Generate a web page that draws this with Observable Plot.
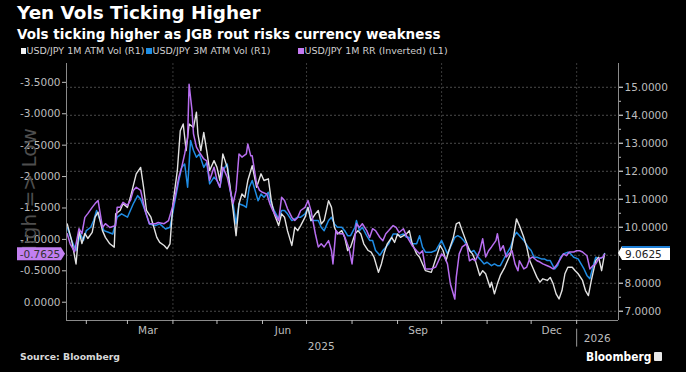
<!DOCTYPE html>
<html><head><meta charset="utf-8">
<script src="https://cdn.jsdelivr.net/npm/d3@7"></script>
<script src="https://cdn.jsdelivr.net/npm/@observablehq/plot@0.6"></script>
<style>
html,body{margin:0;padding:0;background:#000;}
#wrap{position:relative;width:686px;height:372px;overflow:hidden;background:#000;font-family:"DejaVu Sans",sans-serif;}
.abs{position:absolute;white-space:nowrap;line-height:1;}
#title{left:17px;top:3.6px;color:#fff;font-weight:bold;font-size:18.4px;}
#subtitle{left:17px;top:28px;color:#fff;font-weight:bold;font-size:13.5px;}
.lg{top:46px;color:#cfcfcf;font-size:9.5px;}
.sq{position:absolute;top:48px;width:5.5px;height:5.5px;}
#chart{position:absolute;left:0;top:56px;}
#source{left:20px;top:352px;color:#d8d8d8;font-weight:bold;font-size:9.3px;}
#logo{left:586px;top:350px;color:#fff;font-weight:bold;font-size:13px;transform-origin:0 0;transform:scaleX(0.82);}
#logoIcon{position:absolute;left:654px;top:352px;width:8px;height:9px;background:#e8e8e8;border-radius:1px;}
#rbadge{position:absolute;left:622px;width:45px;height:12px;background:#fff;border-top:2px solid #1f7fd6;color:#222;font-size:10.5px;line-height:12px;padding-left:3px;box-sizing:content-box;}
#rnotch{position:absolute;left:618px;width:0;height:0;border-top:7px solid transparent;border-bottom:7px solid transparent;border-right:4px solid #fff;}
</style></head>
<body>
<div id="wrap">
  <div id="title" class="abs">Yen Vols Ticking Higher</div>
  <div id="subtitle" class="abs">Vols ticking higher as JGB rout risks currency weakness</div>
  <div class="sq" style="left:20.5px;background:#f2f2f2"></div>
  <div class="abs lg" style="left:26.5px">USD/JPY 1M ATM Vol (R1)</div>
  <div class="sq" style="left:146px;background:#1e8ee4"></div>
  <div class="abs lg" style="left:152.5px">USD/JPY 3M ATM Vol (R1)</div>
  <div class="sq" style="left:298px;background:#c57af2"></div>
  <div class="abs lg" style="left:304.5px">USD/JPY 1M RR (Inverted) (L1)</div>
  <div id="chart"></div>
  <div id="rnotch"></div>
  <div id="rbadge"></div>
  <div id="source" class="abs">Source: Bloomberg</div>
  <div id="logo" class="abs">Bloomberg</div>
  <div id="logoIcon"></div>
</div>
<script>
// day offsets from 2025-01-01, value
const atm1M = [[18,10.12],[21,9.53],[24,8.69],[26,9.88],[28,9.42],[30,9.78],[32,9.60],[35,9.82],[37,10.36],[39,10.54],[42,9.88],[44,9.64],[47,9.41],[50,9.29],[51,10.48],[54,10.60],[56,10.84],[59,10.71],[61,11.07],[63,11.49],[65,11.91],[68,12.14],[70,11.43],[72,10.60],[75,10.36],[77,10.00],[79,9.64],[81,9.46],[84,9.35],[86,9.23],[88,9.41],[90,10.84],[93,12.03],[95,13.45],[97,13.69],[99,12.74],[101,13.69],[104,13.57],[106,14.11],[107,13.34],[109,12.74],[111,13.39],[113,12.74],[115,12.03],[118,12.38],[120,12.14],[122,11.67],[124,12.62],[127,12.14],[129,11.43],[131,10.60],[133,9.70],[135,10.84],[137,11.19],[139,11.07],[141,11.67],[144,12.20],[147,11.43],[150,11.91],[152,11.67],[155,11.73],[157,10.95],[159,10.48],[162,10.06],[164,10.48],[166,10.36],[168,9.88],[171,9.35],[173,10.00],[175,9.88],[177,10.06],[180,10.36],[182,10.71],[184,10.24],[187,10.48],[189,10.60],[191,10.12],[193,10.24],[196,10.95],[198,10.71],[200,10.00],[202,9.76],[205,9.88],[207,9.64],[209,9.17],[211,9.29],[214,9.76],[216,9.88],[218,9.76],[220,9.41],[223,9.17],[225,9.11],[227,8.93],[230,8.39],[232,8.69],[234,9.11],[236,9.41],[239,9.64],[241,9.46],[243,9.76],[245,9.64],[249,9.76],[251,9.88],[253,9.41],[256,9.05],[258,8.93],[260,8.69],[262,8.45],[266,8.39],[272,9.35],[274,9.17],[276,8.81],[278,9.17],[281,9.64],[283,10.12],[285,10.18],[287,9.88],[290,9.46],[292,9.17],[294,9.05],[296,8.81],[299,8.28],[301,8.45],[303,8.34],[306,7.86],[307,8.04],[309,7.62],[311,7.98],[313,8.28],[316,8.57],[318,8.81],[320,9.05],[322,9.64],[324,10.30],[326,10.06],[329,9.64],[331,9.29],[333,8.81],[335,8.57],[338,8.21],[340,8.04],[342,8.16],[345,8.10],[347,8.21],[349,7.98],[351,7.62],[353,7.44],[355,7.74],[357,8.34],[359,8.57],[362,8.57],[364,8.45],[366,8.34],[369,8.10],[371,7.74],[373,7.56],[375,8.10],[378,8.81],[380,8.93],[382,8.45],[384,9.05]];

const atm3M = [[18,10.00],[21,9.53],[24,9.17],[27,9.76],[29,9.53],[31,9.88],[34,10.00],[36,10.24],[38,10.60],[40,10.30],[43,9.88],[46,9.82],[49,9.76],[52,10.36],[55,10.48],[59,10.36],[61,10.60],[63,10.84],[66,11.13],[68,11.01],[71,10.60],[74,10.12],[78,10.06],[81,10.12],[85,9.94],[88,10.00],[91,10.84],[94,11.67],[96,12.14],[98,12.26],[100,11.43],[102,13.10],[104,12.74],[106,12.50],[108,12.62],[111,12.14],[113,12.32],[115,11.55],[118,11.79],[120,11.67],[122,11.43],[124,12.03],[127,12.26],[129,11.31],[131,10.84],[133,10.12],[135,10.84],[138,10.78],[140,10.71],[142,11.43],[144,11.67],[148,10.95],[150,11.19],[152,11.07],[155,11.25],[157,10.84],[159,10.60],[162,10.30],[164,10.60],[166,10.60],[168,10.48],[171,10.24],[173,10.30],[175,10.36],[177,10.36],[180,10.48],[182,10.71],[184,10.24],[187,10.24],[189,10.24],[191,10.00],[193,9.88],[196,10.24],[198,10.36],[200,10.12],[202,10.00],[205,10.00],[207,9.88],[209,9.70],[211,9.70],[214,10.00],[215,10.24],[217,9.88],[219,10.00],[222,9.70],[224,9.53],[226,9.53],[228,9.17],[231,9.00],[233,9.17],[235,9.29],[237,9.41],[240,9.76],[242,9.76],[244,9.70],[247,9.76],[249,9.64],[251,9.64],[253,9.41],[256,9.41],[258,9.70],[260,9.29],[262,9.11],[266,9.11],[269,9.17],[273,9.53],[275,9.29],[277,9.05],[279,9.29],[282,9.64],[284,9.70],[286,9.64],[288,9.53],[291,9.29],[293,9.11],[295,9.17],[298,8.93],[300,8.81],[302,8.69],[304,8.75],[307,8.63],[309,8.69],[311,8.63],[313,8.63],[316,8.93],[318,9.11],[320,9.29],[322,9.64],[324,9.82],[327,9.64],[329,9.53],[332,9.29],[334,9.17],[336,8.93],[338,8.93],[341,8.87],[343,8.87],[345,8.81],[347,8.81],[350,8.51],[352,8.63],[354,8.93],[356,9.05],[359,9.11],[361,9.05],[363,8.93],[366,8.87],[368,8.69],[370,8.51],[372,8.28],[374,8.16],[376,8.57],[378,8.93],[380,8.87],[383,8.93],[384,9.0625]];

const rr1M = [[18,-1.09],[20,-0.93],[23,-0.80],[26,-1.17],[28,-1.09],[30,-1.35],[32,-1.41],[35,-1.51],[37,-1.57],[39,-1.62],[42,-1.19],[44,-1.25],[47,-1.19],[51,-1.22],[52,-1.51],[54,-1.51],[56,-1.59],[59,-1.54],[61,-1.62],[63,-1.78],[65,-1.83],[68,-1.78],[71,-1.46],[74,-1.25],[78,-1.25],[80,-1.27],[84,-1.25],[87,-1.30],[89,-1.46],[91,-1.62],[94,-1.99],[96,-2.15],[98,-2.36],[100,-2.62],[101,-3.47],[103,-3.05],[104,-2.68],[106,-2.47],[108,-2.39],[111,-2.28],[113,-2.25],[115,-1.94],[118,-2.15],[120,-1.94],[122,-1.83],[124,-2.15],[127,-1.99],[129,-1.78],[131,-1.57],[133,-1.78],[135,-2.36],[137,-2.31],[140,-2.36],[141,-2.52],[143,-2.33],[144,-2.33],[147,-1.88],[149,-1.78],[151,-1.75],[154,-1.72],[156,-1.57],[158,-1.46],[162,-1.30],[164,-1.67],[166,-1.62],[168,-1.49],[171,-1.35],[173,-1.30],[175,-1.35],[177,-1.46],[180,-1.51],[182,-1.62],[184,-1.46],[187,-1.09],[189,-0.88],[191,-0.93],[193,-0.88],[196,-0.98],[198,-0.82],[199,-0.61],[201,-1.14],[203,-1.09],[206,-1.09],[208,-0.98],[210,-0.85],[212,-0.61],[215,-1.25],[217,-1.19],[219,-1.25],[222,-1.14],[224,-1.03],[226,-1.17],[228,-1.14],[231,-1.03],[233,-0.98],[235,-1.09],[237,-1.14],[240,-1.22],[242,-1.19],[244,-1.11],[247,-1.17],[249,-1.06],[251,-0.98],[253,-0.90],[256,-0.82],[258,-0.77],[260,-0.82],[262,-0.53],[266,-0.53],[269,-0.56],[273,-0.77],[275,-0.72],[277,-0.61],[279,-0.29],[282,-0.05],[283,-0.40],[285,-0.77],[287,-0.88],[290,-0.93],[292,-0.66],[294,-0.69],[296,-0.66],[299,-0.82],[301,-1.01],[303,-0.72],[305,-0.82],[307,-0.88],[310,-0.98],[311,-1.09],[313,-0.82],[315,-0.90],[317,-0.72],[319,-0.77],[321,-0.82],[323,-0.61],[325,-0.50],[326,-0.66],[329,-0.53],[331,-0.56],[333,-0.69],[335,-0.72],[338,-0.66],[340,-0.64],[342,-0.61],[345,-0.58],[347,-0.56],[349,-0.53],[351,-0.58],[354,-0.69],[356,-0.77],[358,-0.74],[360,-0.80],[363,-0.80],[365,-0.82],[367,-0.82],[369,-0.80],[372,-0.74],[374,-0.53],[376,-0.58],[378,-0.61],[380,-0.69],[383,-0.72],[384,-0.7625]];

const leftTicks = [-3.5, -3.0, -2.5, -2.0, -1.5, -1.0, -0.5, 0.0];
const rightTicks = [7, 8, 9, 10, 11, 12, 13, 14, 15];
const monthStarts = ["2025-02-01","2025-03-01","2025-04-01","2025-05-01","2025-06-01","2025-07-01","2025-08-01","2025-09-01","2025-10-01","2025-11-01","2025-12-01","2026-01-01"];
const quarterStarts = ["2025-04-01","2025-07-01","2025-10-01","2026-01-01"];
const monthLabelDates = ["2025-03-15","2025-06-15","2025-09-15","2025-12-15"];
const year2025Date = ["2025-07-11"];
const year2026Date = ["2026-01-15"];
const yearBreak = ["2026-01-01"];
const lastRR = -0.7625;
const last3M = 9.0625;

const BASE = Date.UTC(2025, 0, 1), DAY = 864e5;
const toDate = d => new Date(BASE + d * DAY);
const pd = s => new Date(s + "T00:00:00Z");

const xDomain = [toDate(17.5), toDate(393.5)];
const rDomain = [6.67, 15.85];
const lDomain = [0.291, -3.80];
const lToR = d3.scaleLinear().domain(lDomain).range(rDomain);
const fmt = d3.formatLocale({decimal: ".", thousands: ",", grouping: [3], currency: ["", ""], minus: "-"}).format(".4f");
// right-axis labels hidden behind the last-value badge
const rightLabelTicks = rightTicks.filter(t => Math.abs(t - last3M) > 0.4);

const plot = Plot.plot({
  width: 686, height: 316,
  marginLeft: 66, marginRight: 68, marginTop: 7, marginBottom: 52,
  x: {type: "utc", domain: xDomain},
  y: {domain: rDomain},
  style: {background: "#000", color: "#bdbdbd", fontFamily: "DejaVu Sans", fontSize: "10.5px", overflow: "visible"},
  marks: [
    Plot.gridY({ticks: rightTicks, stroke: "#4a4a4a", strokeOpacity: 1, strokeDasharray: "2,2"}),
    Plot.ruleX(quarterStarts.map(pd), {stroke: "#3a3a3a", strokeDasharray: "2,2"}),
    Plot.line(atm3M, {x: d => toDate(d[0]), y: d => d[1], stroke: "#1f8ce4", strokeWidth: 1.5}),
    Plot.line(atm1M, {x: d => toDate(d[0]), y: d => d[1], stroke: "#e2e2e2", strokeWidth: 1.4}),
    Plot.line(rr1M, {x: d => toDate(d[0]), y: d => lToR(d[1]), stroke: "#b86ef0", strokeWidth: 1.5}),
    Plot.ruleY([rDomain[0]], {stroke: "#8a8a8a"}),
    Plot.ruleX(xDomain, {stroke: "#8a8a8a"}),
    Plot.axisY({anchor: "left", ticks: leftTicks.map(lToR), tickSize: 4, tickPadding: 2, label: null,
      tickFormat: v => { const L = Math.round(lToR.invert(v) * 1e4) / 1e4; return fmt(L === 0 ? 0 : L); }}),
    Plot.axisY({anchor: "right", ticks: rightTicks, tickSize: 4, label: null, tickFormat: () => ""}),
    Plot.axisY({anchor: "right", ticks: rightLabelTicks, tickSize: 4, tickPadding: 2, label: null, tickFormat: fmt}),
    Plot.axisY({anchor: "right", ticks: rightTicks.slice(1).map(t => t - 0.5), tickSize: 2, label: null, tickFormat: () => ""}),
    Plot.axisX({ticks: monthStarts.map(pd), tickSize: 4, label: null, tickFormat: () => ""}),
    Plot.axisX({ticks: monthLabelDates.map(pd), tickSize: 0, tickPadding: 6, label: null, tickFormat: d3.utcFormat("%b")}),
    Plot.axisX({ticks: year2025Date.map(pd), tickSize: 0, tickPadding: 22, label: null, tickFormat: d3.utcFormat("%Y")}),
    Plot.axisX({ticks: year2026Date.map(pd), tickSize: 0, tickPadding: 14, label: null, tickFormat: d3.utcFormat("%Y")}),
    Plot.ruleX(yearBreak.map(pd), {y1: 6.36, y2: 5.72, stroke: "#9a9a9a"})
  ]
});
document.getElementById("chart").appendChild(plot);

const ys = plot.scale("y");
const svg = d3.select(plot);
// faint rotated axis hint
svg.append("text").attr("transform", "translate(29,138) rotate(-90)")
  .attr("text-anchor", "middle").attr("dominant-baseline", "central")
  .attr("fill", "#4e4e4e").attr("font-size", "20px").attr("font-family", "DejaVu Sans")
  .text("High => Low");
// left value badge
const yl = ys.apply(lToR(lastRR));
svg.append("path").attr("d", `M17,${yl - 6.5}H61L65,${yl}L61,${yl + 6.5}H17Z`).attr("fill", "#c27ff0");
svg.append("text").attr("x", 40).attr("y", yl).attr("dy", "0.36em").attr("text-anchor", "middle")
  .attr("fill", "#333").attr("font-size", "10.5px").attr("font-family", "DejaVu Sans").text(fmt(lastRR));
// right value badge (HTML overlay positioned from the y scale)
const yrPage = 56 + ys.apply(last3M);
const rb = document.getElementById("rbadge");
rb.style.top = (yrPage - 7) + "px";
rb.textContent = fmt(last3M);
document.getElementById("rnotch").style.top = (yrPage - 7) + "px";
</script>
</body></html>
